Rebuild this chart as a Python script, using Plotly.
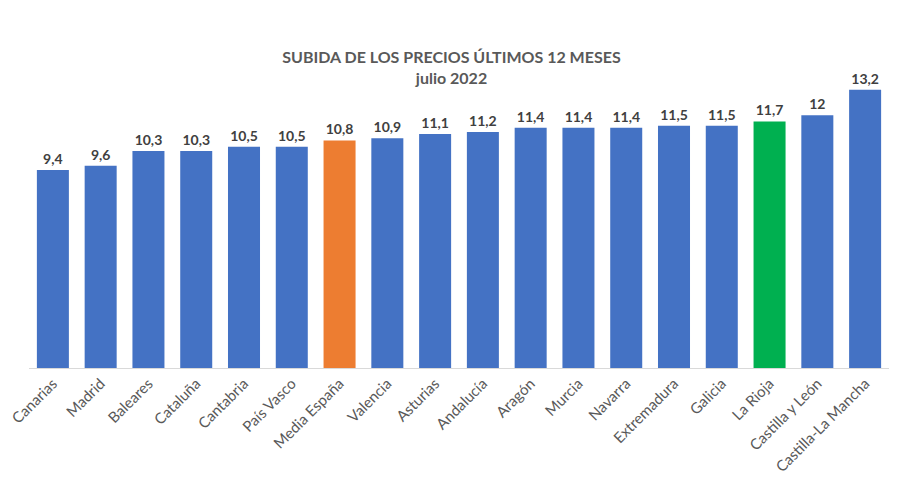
import plotly.graph_objects as go

categories = ["Canarias", "Madrid", "Baleares", "Cataluña", "Cantabria", "País Vasco",
              "Media España", "Valencia", "Asturias", "Andalucía", "Aragón", "Murcia",
              "Navarra", "Extremadura", "Galicia", "La Rioja", "Castilla y León",
              "Castilla-La Mancha"]
values = [9.4, 9.6, 10.3, 10.3, 10.5, 10.5, 10.8, 10.9, 11.1, 11.2, 11.4, 11.4,
          11.4, 11.5, 11.5, 11.7, 12, 13.2]
labels = [str(v).replace(".", ",") for v in values]

BLUE, ORANGE, GREEN = "#4472C4", "#ED7D31", "#00B050"
colors = [ORANGE if c == "Media España" else GREEN if c == "La Rioja" else BLUE
          for c in categories]

fig = go.Figure(go.Bar(
    x=categories, y=values, marker_color=colors, marker_line_width=0,
    text=labels, textposition="outside", cliponaxis=False,
    textfont=dict(family="Lato", size=14, color="#404040", weight="bold"),
))

fig.update_layout(
    width=903, height=488,
    margin=dict(l=29, r=14, t=73, b=120),
    paper_bgcolor="white", plot_bgcolor="white",
    bargap=0.33,
    showlegend=False,
    title=dict(
        text="<b>SUBIDA DE LOS PRECIOS ÚLTIMOS 12 MESES<br>julio 2022</b>",
        x=0.5, xanchor="center", y=1 - 63 / 488, yanchor="middle",
        font=dict(family="Lato", size=16, color="#595959"),
    ),
    xaxis=dict(tickangle=-45, tickfont=dict(family="Lato", size=15, color="#595959"),
               showline=True, linecolor="#D9D9D9", linewidth=1, ticks="",
               showgrid=False, automargin=False),
    yaxis=dict(range=[0, 14], visible=False, showgrid=False, zeroline=False,
               automargin=False),
)

fig.write_html("out.html")
